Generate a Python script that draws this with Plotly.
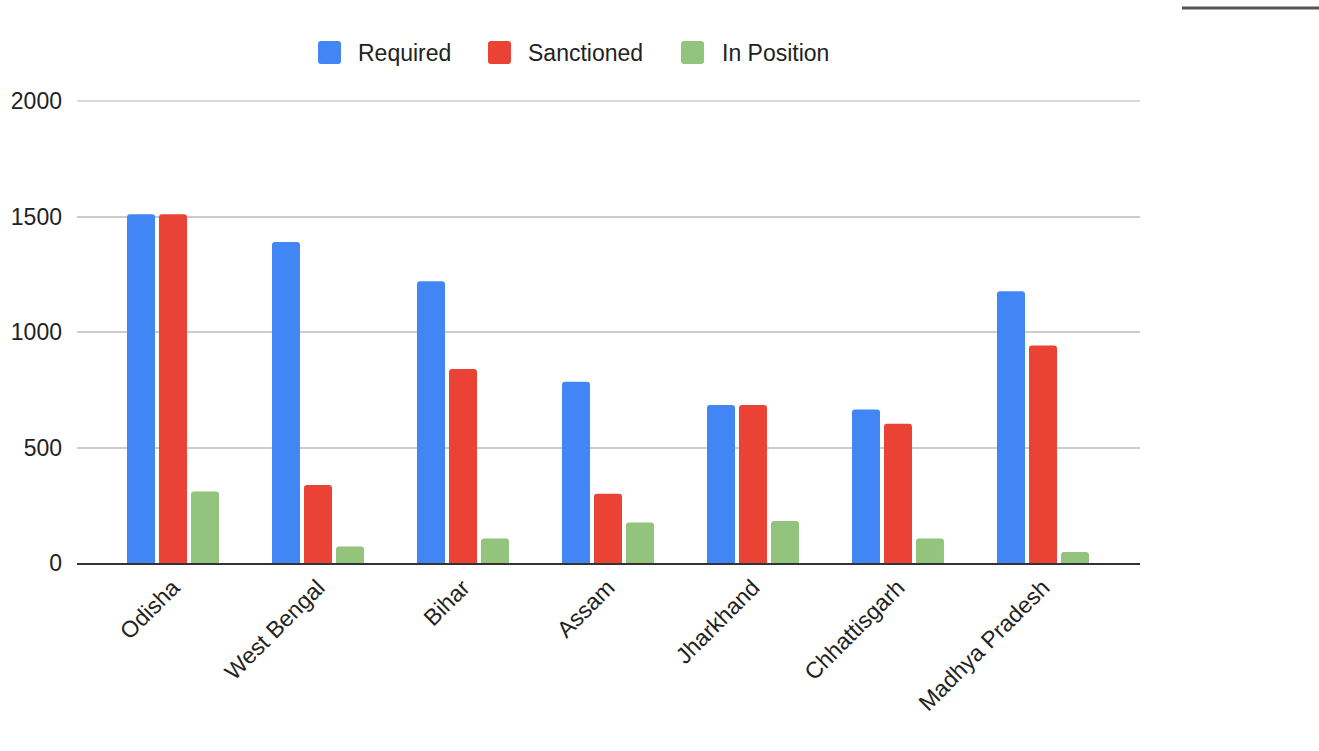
import plotly.graph_objects as go

# Staffing posts by state
states = ["Odisha", "West Bengal", "Bihar", "Assam", "Jharkhand", "Chhattisgarh", "Madhya Pradesh"]
required = [1510, 1390, 1220, 785, 684, 664, 1176]
sanctioned = [1510, 338, 840, 300, 684, 603, 942]
in_position = [310, 71, 106, 175, 182, 106, 48]

series_names = ["Required", "Sanctioned", "In Position"]
series_colors = ["#4285F4", "#EA4335", "#93C47D"]

y_ticks = [0, 500, 1000, 1500, 2000]

W, H = 1319, 751
L, R, T, B = 77, 1140, 101, 563  # plot area in pixels

FONT = "Liberation Sans, Arial, sans-serif"
FS = 23

fig = go.Figure()
for name, vals, col in zip(series_names, [required, sanctioned, in_position], series_colors):
    fig.add_trace(go.Bar(x=states, y=vals, name=name, marker=dict(color=col, line=dict(width=0)),
                         showlegend=False))


def px_x(p):
    return (p - L) / (R - L)


def px_y(p):
    return (B - p) / (B - T)


def rounded_rect(x0, y0, x1, y1, r):
    pts = [
        f"M {px_x(x0 + r)} {px_y(y0)}",
        f"L {px_x(x1 - r)} {px_y(y0)}",
        f"Q {px_x(x1)} {px_y(y0)} {px_x(x1)} {px_y(y0 + r)}",
        f"L {px_x(x1)} {px_y(y1 - r)}",
        f"Q {px_x(x1)} {px_y(y1)} {px_x(x1 - r)} {px_y(y1)}",
        f"L {px_x(x0 + r)} {px_y(y1)}",
        f"Q {px_x(x0)} {px_y(y1)} {px_x(x0)} {px_y(y1 - r)}",
        f"L {px_x(x0)} {px_y(y0 + r)}",
        f"Q {px_x(x0)} {px_y(y0)} {px_x(x0 + r)} {px_y(y0)}",
        "Z",
    ]
    return " ".join(pts)


# Legend drawn as swatches + labels across the top
legend_pos = [(318, 356), (488, 526), (681, 720)]
shapes = []
annotations = []
for (sx, tx), name, col in zip(legend_pos, series_names, series_colors):
    shapes.append(dict(type="path", xref="paper", yref="paper",
                       path=rounded_rect(sx, 41, sx + 23, 64, 3),
                       fillcolor=col, line=dict(width=0)))
    annotations.append(dict(x=px_x(tx), y=px_y(52.5), xref="paper", yref="paper",
                            text=name, showarrow=False, xanchor="left", yanchor="middle",
                            font=dict(family=FONT, size=FS, color="#222222")))

# Top gridline sits on the plot edge (y = 2000), so draw it unclipped in paper space
shapes.append(dict(type="line", xref="paper", yref="paper", layer="below",
                   x0=0, x1=1, y0=1, y1=1,
                   line=dict(color="#cccccc", width=1.5)))

# Thin rule at the top right edge
shapes.append(dict(type="line", xref="paper", yref="paper",
                   x0=px_x(1182), x1=px_x(1319), y0=px_y(8), y1=px_y(8),
                   line=dict(color="#555555", width=3)))

fig.update_layout(
    width=W, height=H,
    margin=dict(l=L, r=W - R, t=T, b=H - B, pad=0),
    paper_bgcolor="white", plot_bgcolor="white",
    barmode="group", bargap=0.338, bargroupgap=0.125, barcornerradius=3,
    font=dict(family=FONT, size=FS, color="#222222"),
    shapes=shapes, annotations=annotations,
    showlegend=False,
    xaxis=dict(type="category", range=[-0.662, 6.669], tickangle=-45,
               showgrid=False, showline=True, linecolor="#333333", linewidth=2,
               ticks="", tickfont=dict(size=FS, color="#222222")),
    yaxis=dict(range=[y_ticks[0], y_ticks[-1]], tickvals=y_ticks,
               showgrid=True, gridcolor="#cccccc", gridwidth=1.5,
               zeroline=False, showline=False, ticks="",
               ticklabelstandoff=14, tickfont=dict(size=FS, color="#222222")),
)

fig.write_html("out.html")
